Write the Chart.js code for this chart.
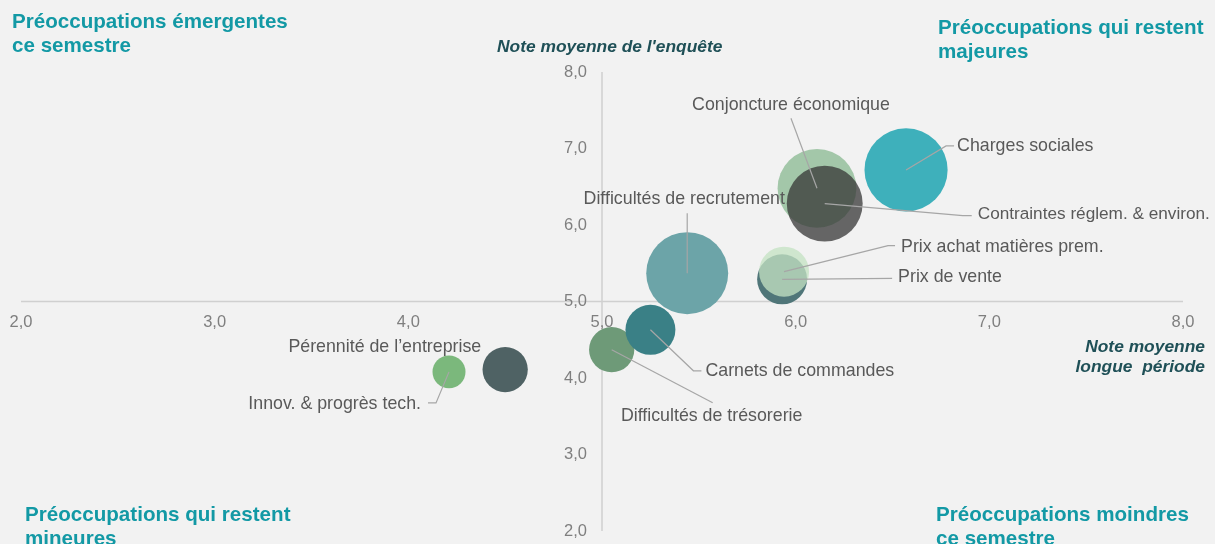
<!DOCTYPE html>
<html lang="fr">
<head>
<meta charset="utf-8">
<title>Préoccupations</title>
<script src="https://cdn.jsdelivr.net/npm/chart.js@4.4.1/dist/chart.umd.min.js"></script>
<style>
  html, body { margin: 0; padding: 0; background: #f2f2f2; }
  #wrap { position: relative; width: 1215px; height: 544px; overflow: hidden;
          font-family: "Liberation Sans", Arial, sans-serif; }
  #wrap canvas { position: absolute; left: 0; top: 0; }
  .quad { position: absolute; color: #1399a5; font-weight: bold; font-size: 20.6px;
          line-height: 24px; white-space: nowrap; }
  .axt { position: absolute; color: #1f5057; font-weight: bold; font-style: italic;
         font-size: 17.4px; line-height: 20px; white-space: pre; }
</style>
</head>
<body>
<div id="wrap">
  <canvas id="chart" width="1215" height="544"></canvas>
  <div class="quad" style="left:12px; top:9px;">Préoccupations émergentes<br>ce semestre</div>
  <div class="quad" style="left:938px; top:15px;">Préoccupations qui restent<br>majeures</div>
  <div class="quad" style="left:25px; top:502px;">Préoccupations qui restent<br>mineures</div>
  <div class="quad" style="left:936px; top:502px;">Préoccupations moindres<br>ce semestre</div>
  <div class="axt" style="left:497px; top:36px;">Note moyenne de l'enquête</div>
  <div class="axt" style="right:10px; top:336px; text-align:right;">Note moyenne
longue  période</div>
</div>
<script>
// values (draw order: last one on top)
const preoccupations = [
  "Innov. & progrès tech.",
  "Pérennité de l’entreprise",
  "Difficultés de trésorerie",
  "Carnets de commandes",
  "Difficultés de recrutement",
  "Prix de vente",
  "Prix achat matières prem.",
  "Conjoncture économique",
  "Contraintes réglem. & environ.",
  "Charges sociales"
]
const noteLonguePeriode = [4.21, 4.50, 5.05, 5.25, 5.44, 5.93, 5.94, 6.11, 6.15, 6.57]
const noteEnquete = [4.08, 4.11, 4.37, 4.63, 5.37, 5.29, 5.39, 6.48, 6.28, 6.72]
const taille = [17, 32, 32, 39, 105, 39, 39, 97, 90, 108]
const graduations = [2, 3, 4, 5, 6, 7, 8]
const croisement = 5   // both axes cross at 5,0

const couleurs = [
  "rgb(123,184,124)",
  "rgb(79,98,100)",
  "rgb(110,154,120)",
  "rgb(58,128,134)",
  "rgb(108,164,168)",
  "rgb(80,118,121)",
  "rgba(196,226,195,0.76)",
  "rgb(163,199,169)",
  "rgba(53,53,53,0.75)",
  "rgb(62,176,187)"
]

// label placement relative to each bubble centre (px), with leader line
const etiquettes = {
  "Innov. & progrès tech.":        { dx: -28, dy: 32, align: "right", trait: [[0, 0], [-13, 31], [-21, 31]] },
  "Pérennité de l’entreprise":     { dx: -24, dy: -22, align: "right", trait: null },
  "Difficultés de trésorerie":     { dx: 100, dy: 66, align: "center", trait: [[0, 0], [101, 53]] },
  "Carnets de commandes":          { dx: 55, dy: 41, align: "left", trait: [[0, 0], [43, 41], [51, 41]] },
  "Difficultés de recrutement":    { dx: -3, dy: -74, align: "center", trait: [[0, 0], [0, -60]] },
  "Prix de vente":                 { dx: 116, dy: -2, align: "left", trait: [[0, 0], [110, -1]] },
  "Prix achat matières prem.":     { dx: 117, dy: -25, align: "left", trait: [[0, 0], [104, -26], [111, -26]] },
  "Conjoncture économique":        { dx: -26, dy: -83, align: "center", trait: [[0, 0], [-26, -70]] },
  "Contraintes réglem. & environ.": { dx: 153, dy: 11, align: "left", size: 17.2, trait: [[0, 0], [138, 12], [147, 12]] },
  "Charges sociales":              { dx: 51, dy: -24, align: "left", trait: [[0, 0], [40, -24], [48, -24]] }
}

const police = '"Liberation Sans", Arial, sans-serif'
const formatFr = v => v.toFixed(1).replace('.', ',')

// axes crossing in the middle, drawn from the chart's own scales
const axesCroises = {
  id: 'axesCroises',
  beforeDatasetsDraw(chart) {
    const { ctx, scales: { x, y } } = chart
    const x0 = x.getPixelForValue(croisement)
    const y0 = y.getPixelForValue(croisement)
    ctx.save()
    ctx.strokeStyle = '#d0d0d0'
    ctx.lineWidth = 1.5
    ctx.beginPath()
    ctx.moveTo(x.left, y0)
    ctx.lineTo(x.right, y0)
    ctx.moveTo(x0, y.top)
    ctx.lineTo(x0, y.bottom)
    ctx.stroke()

    ctx.fillStyle = '#7f7f7f'
    ctx.font = '16.5px ' + police
    ctx.textBaseline = 'middle'
    ctx.textAlign = 'center'
    graduations.forEach(v => ctx.fillText(formatFr(v), x.getPixelForValue(v), y0 + 21))
    ctx.textAlign = 'right'
    graduations.forEach(v => ctx.fillText(formatFr(v), x0 - 15, y.getPixelForValue(v)))
    ctx.restore()
  }
}

const etiquettesPlugin = {
  id: 'etiquettes',
  afterDatasetsDraw(chart) {
    const ctx = chart.ctx
    const meta = chart.getDatasetMeta(0)
    ctx.save()
    meta.data.forEach((el, i) => {
      const lab = etiquettes[preoccupations[i]]
      if (!lab) return
      if (lab.trait) {
        ctx.strokeStyle = '#a6a6a6'
        ctx.lineWidth = 1.2
        ctx.beginPath()
        lab.trait.forEach(([dx, dy], k) => {
          if (k === 0) ctx.moveTo(el.x + dx, el.y + dy)
          else ctx.lineTo(el.x + dx, el.y + dy)
        })
        ctx.stroke()
      }
      ctx.fillStyle = '#595959'
      ctx.font = (lab.size || 17.8) + 'px ' + police
      ctx.textAlign = lab.align
      ctx.textBaseline = 'middle'
      ctx.fillText(preoccupations[i], el.x + lab.dx, el.y + lab.dy)
    })
    ctx.restore()
  }
}

new Chart(document.getElementById('chart'), {
  type: 'bubble',
  data: {
    datasets: [{
      data: preoccupations.map((_, i) => ({
        x: noteLonguePeriode[i],
        y: noteEnquete[i],
        r: 4 * Math.sqrt(taille[i])
      })),
      backgroundColor: couleurs,
      borderWidth: 0,
      hoverBorderWidth: 0,
      clip: false
    }]
  },
  options: {
    responsive: false,
    animation: false,
    events: [],
    layout: { autoPadding: false, padding: { left: 21, right: 32, top: 72, bottom: 13 } },
    plugins: { legend: { display: false }, tooltip: { enabled: false } },
    scales: {
      x: { type: 'linear', min: 2, max: 8, display: false },
      y: { type: 'linear', min: 2, max: 8, display: false }
    }
  },
  plugins: [axesCroises, etiquettesPlugin]
})
</script>
</body>
</html>
